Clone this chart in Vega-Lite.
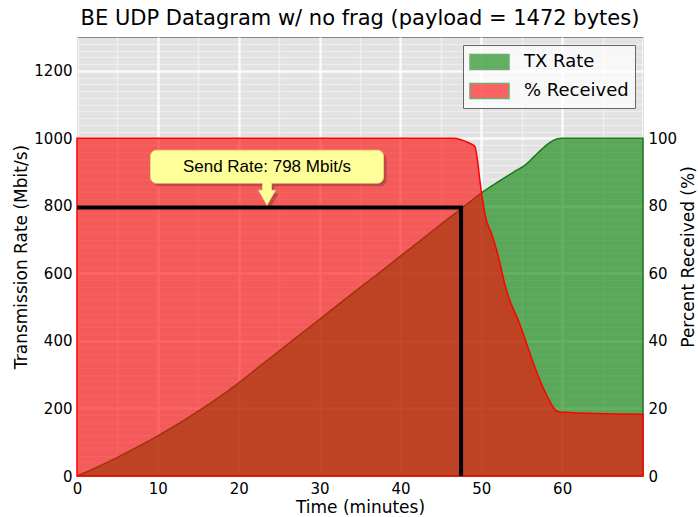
{
  "$schema": "https://vega.github.io/schema/vega-lite/v6.json",
  "width": 566,
  "height": 439,
  "autosize": "none",
  "padding": {"left": 77, "top": 37, "right": 55, "bottom": 41},
  "title": {"text": "BE UDP Datagram w/ no frag (payload = 1472 bytes)", "font": "DejaVu Sans", "fontSize": 21, "fontWeight": "normal", "color": "#000000", "offset": 8, "anchor": "middle"},
  "config": {
    "view": {"fill": "#e2e2e2", "stroke": "#333333", "strokeWidth": 1},
    "axis": {"labelFont": "DejaVu Sans", "labelFontSize": 15, "labelColor": "#000000", "titleFont": "DejaVu Sans", "titleFontSize": 17, "titleFontWeight": "normal", "titleColor": "#000000", "domain": false, "ticks": false, "labelPadding": 5},
    "legend": {"orient": "top-right", "offset": 8, "padding": 6, "fillColor": "rgba(255,255,255,0.72)", "strokeColor": "#666666", "labelFont": "DejaVu Sans", "labelFontSize": 18, "labelColor": "#000000", "symbolType": "M-1,-0.75H2.9V0.75H-1Z", "symbolSize": 400, "rowPadding": 7, "labelOffset": 33, "symbolStrokeWidth": 1.5, "symbolOpacity": 0.6}
  },
  "datasets": {
    "tx": [
      {"t": 0, "rate": 0}, {"t": 2.5, "rate": 26}, {"t": 5, "rate": 55}, {"t": 7.5, "rate": 86}, {"t": 10, "rate": 119},
      {"t": 12.5, "rate": 154}, {"t": 15, "rate": 192}, {"t": 17.5, "rate": 232}, {"t": 20, "rate": 276}, {"t": 22.5, "rate": 323},
      {"t": 25, "rate": 370}, {"t": 27.5, "rate": 417}, {"t": 30, "rate": 464}, {"t": 32.5, "rate": 511}, {"t": 35, "rate": 558},
      {"t": 37.5, "rate": 604}, {"t": 40, "rate": 651}, {"t": 42.5, "rate": 698}, {"t": 45, "rate": 745}, {"t": 47.5, "rate": 791},
      {"t": 50, "rate": 838}, {"t": 52, "rate": 870}, {"t": 54, "rate": 900}, {"t": 55.5, "rate": 922}, {"t": 56.5, "rate": 945},
      {"t": 57.5, "rate": 968}, {"t": 58.5, "rate": 988}, {"t": 59.3, "rate": 998}, {"t": 60, "rate": 1000}, {"t": 70, "rate": 1000}
    ],
    "pct": [
      {"t": 0, "pct": 100}, {"t": 46.5, "pct": 100}, {"t": 47.5, "pct": 99.6}, {"t": 48.5, "pct": 98.6}, {"t": 49.2, "pct": 97.6},
      {"t": 49.5, "pct": 94}, {"t": 49.8, "pct": 88}, {"t": 50.5, "pct": 77}, {"t": 51.3, "pct": 71.5}, {"t": 52, "pct": 66},
      {"t": 53, "pct": 56}, {"t": 53.6, "pct": 51.5}, {"t": 54.6, "pct": 46}, {"t": 55.5, "pct": 40}, {"t": 56.5, "pct": 33},
      {"t": 57.5, "pct": 27}, {"t": 58.5, "pct": 22}, {"t": 59.3, "pct": 19.3}, {"t": 60, "pct": 18.9}, {"t": 70, "pct": 18.3}
    ],
    "send": [
      {"i": 1, "t": 0, "rate": 795}, {"i": 2, "t": 47.5, "rate": 795}, {"i": 3, "t": 47.5, "rate": 0}
    ],
    "note": [
      {"t": 23.5, "rate": 916, "label": "Send Rate: 798 Mbit/s"}
    ]
  },
  "encoding": {
    "x": {"field": "t", "type": "quantitative", "scale": {"domain": [0, 70], "nice": false},
      "axis": {"title": "Time (minutes)", "values": [0, 5, 10, 15, 20, 25, 30, 35, 40, 45, 50, 55, 60, 65, 70],
        "labelExpr": "(datum.value % 10 === 0 && datum.value < 70) ? datum.label : ''",
        "labelFlush": false,
        "gridColor": "#ffffff",
        "gridOpacity": {"condition": {"test": "datum.value % 10 === 0", "value": 0.85}, "value": 0.45},
        "gridWidth": {"condition": {"test": "datum.value % 10 === 0", "value": 2.5}, "value": 1.5},
        "titlePadding": 3}}
  },
  "resolve": {"scale": {"y": "independent"}},
  "layer": [
    {
      "data": {"name": "tx"},
      "mark": {"type": "area", "opacity": 1, "fillOpacity": 0.6, "stroke": "#1a7a1a", "strokeWidth": 1.5, "interpolate": "monotone"},
      "encoding": {
        "y": {"field": "rate", "type": "quantitative", "scale": {"domain": [0, 1300], "nice": false},
          "axis": {"title": "Transmission Rate (Mbit/s)", "format": "d",
            "values": [0, 20, 40, 60, 80, 100, 120, 140, 160, 180, 200, 220, 240, 260, 280, 300, 320, 340, 360, 380, 400, 420, 440, 460, 480, 500, 520, 540, 560, 580, 600, 620, 640, 660, 680, 700, 720, 740, 760, 780, 800, 820, 840, 860, 880, 900, 920, 940, 960, 980, 1000, 1020, 1040, 1060, 1080, 1100, 1120, 1140, 1160, 1180, 1200, 1220, 1240, 1260, 1280, 1300],
            "labelExpr": "(datum.value % 200 === 0) ? datum.label : ''",
            "labelFlush": false,
            "gridColor": "#ffffff",
            "gridOpacity": {"condition": {"test": "datum.value % 200 === 0", "value": 0.85}, "value": 0.4},
            "gridWidth": {"condition": {"test": "datum.value % 200 === 0", "value": 2.5}, "value": 1.5},
            "titlePadding": 3}},
        "color": {"datum": "TX Rate", "type": "nominal",
          "scale": {"domain": ["TX Rate", "% Received"], "range": ["#008000", "#ff0000"]},
          "legend": {"title": null,
            "encode": {"symbols": {"update": {"stroke": {"scale": "color", "field": "value"}, "strokeWidth": {"value": 1.5}}}}}}
      }
    },
    {
      "data": {"name": "pct"},
      "mark": {"type": "area", "opacity": 1, "fillOpacity": 0.6, "stroke": "#ff0000", "strokeWidth": 1.5, "interpolate": "monotone"},
      "encoding": {
        "y": {"field": "pct", "type": "quantitative", "scale": {"domain": [0, 130], "nice": false},
          "axis": {"orient": "right", "title": "Percent Received (%)", "titleAngle": 270, "titleBaseline": "top", "labelFlush": false, "values": [0, 20, 40, 60, 80, 100], "grid": false, "titlePadding": 4}},
        "color": {"datum": "% Received", "type": "nominal"}
      }
    },
    {
      "data": {"name": "send"},
      "mark": {"type": "line", "color": "#000000", "strokeWidth": 4, "strokeCap": "butt", "strokeJoin": "miter"},
      "encoding": {
        "y": {"field": "rate", "type": "quantitative", "scale": {"domain": [0, 1300], "nice": false}, "axis": null},
        "order": {"field": "i"}
      }
    },
    {
      "data": {"name": "note"},
      "mark": {"type": "point", "filled": true, "opacity": 0.22, "color": "#000000", "xOffset": 3, "yOffset": 3, "size": 54289,
        "shape": "M-0.9485,-0.1416H0.9485A0.0515,0.0515 0 0 1 1,-0.0901V0.0901A0.0515,0.0515 0 0 1 0.9485,0.1416H0.0386V0.2017H0.073L0,0.3305L-0.073,0.2017H-0.0386V0.1416H-0.9485A0.0515,0.0515 0 0 1 -1,0.0901V-0.0901A0.0515,0.0515 0 0 1 -0.9485,-0.1416Z"},
      "encoding": {
        "y": {"field": "rate", "type": "quantitative", "scale": {"domain": [0, 1300], "nice": false}, "axis": null}
      }
    },
    {
      "data": {"name": "note"},
      "mark": {"type": "point", "filled": true, "opacity": 1, "fill": "#ffff99", "stroke": "#e6e07a", "strokeWidth": 0.8, "size": 54289,
        "shape": "M-0.9485,-0.1416H0.9485A0.0515,0.0515 0 0 1 1,-0.0901V0.0901A0.0515,0.0515 0 0 1 0.9485,0.1416H0.0386V0.2017H0.073L0,0.3305L-0.073,0.2017H-0.0386V0.1416H-0.9485A0.0515,0.0515 0 0 1 -1,0.0901V-0.0901A0.0515,0.0515 0 0 1 -0.9485,-0.1416Z"},
      "encoding": {
        "y": {"field": "rate", "type": "quantitative", "scale": {"domain": [0, 1300], "nice": false}, "axis": null}
      }
    },
    {
      "data": {"name": "note"},
      "mark": {"type": "text", "font": "Liberation Sans", "fontSize": 17, "color": "#000000", "align": "center", "baseline": "middle"},
      "encoding": {
        "y": {"field": "rate", "type": "quantitative", "scale": {"domain": [0, 1300], "nice": false}, "axis": null},
        "text": {"field": "label"}
      }
    }
  ]
}
